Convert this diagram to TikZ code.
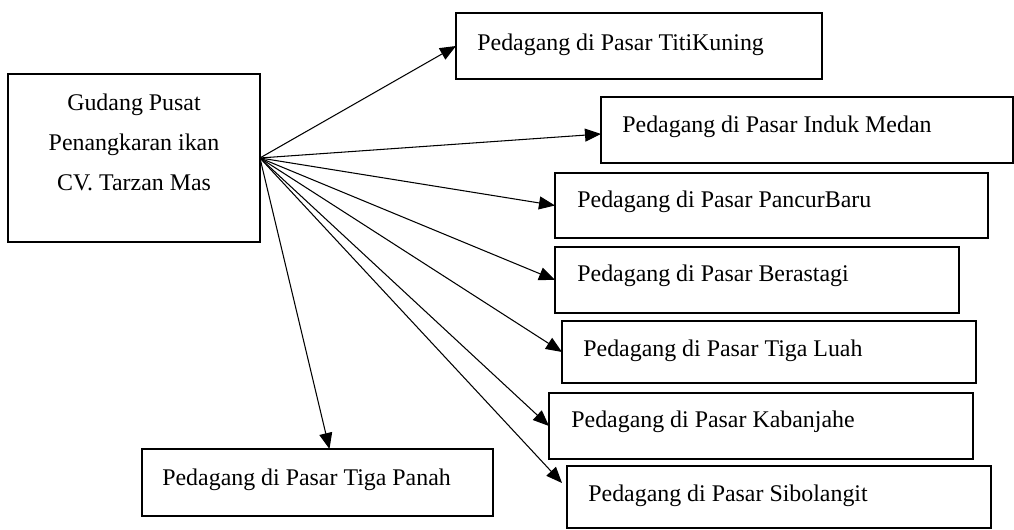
\documentclass[tikz,border=0pt]{standalone}
\usepackage{fontspec}
\setmainfont{Liberation Serif}
\usetikzlibrary{arrows.meta,positioning,calc}
\tikzset{
    flow/.style={-{Triangle[length=0.32cm, width=0.26cm]}, line width=0.6pt, black},
    stall/.style={draw, line width=1.5pt, anchor=north west, inner sep=0pt, outer sep=0pt},
    stalltext/.style={anchor=mid west, inner sep=0pt, font=\fontsize{13.6}{16}\selectfont}
}

\begin{document}
\begin{tikzpicture}[x=0.02cm, y=-0.02cm]
            \useasboundingbox (0,0) rectangle (1014,530);
            % central warehouse
            \node[stall, minimum width=5.04cm, minimum height=3.36cm] (gudang) at (8,74) {};
            \node[align=center, inner sep=0pt, font=\fontsize{13.6}{22.8}\selectfont] (gudangtext) at (134,142) {Gudang Pusat\\Penangkaran ikan\\CV. Tarzan Mas};
            % traders
            \node[stall, minimum width=7.32cm, minimum height=1.32cm] (titi) at (456,13) {};
            \node[stalltext] at ([shift={(21,33)}]titi.north west) {Pedagang di Pasar TitiKuning};
            \node[stall, minimum width=8.24cm, minimum height=1.32cm] (induk) at (601,97) {};
            \node[stalltext] at ([shift={(21,31)}]induk.north west) {Pedagang di Pasar Induk Medan};
            \node[stall, minimum width=8.66cm, minimum height=1.30cm] (pancur) at (555,173) {};
            \node[stalltext] at ([shift={(22,30)}]pancur.north west) {Pedagang di Pasar PancurBaru};
            \node[stall, minimum width=8.08cm, minimum height=1.32cm] (berastagi) at (555,247) {};
            \node[stalltext] at ([shift={(22,30)}]berastagi.north west) {Pedagang di Pasar Berastagi};
            \node[stall, minimum width=8.28cm, minimum height=1.24cm] (luah) at (562,321) {};
            \node[stalltext] at ([shift={(21,31)}]luah.north west) {Pedagang di Pasar Tiga Luah};
            \node[stall, minimum width=8.48cm, minimum height=1.32cm] (kabanjahe) at (549,393) {};
            \node[stalltext] at ([shift={(22,30)}]kabanjahe.north west) {Pedagang di Pasar Kabanjahe};
            \node[stall, minimum width=8.48cm, minimum height=1.24cm] (sibolangit) at (567,466) {};
            \node[stalltext] at ([shift={(21,31)}]sibolangit.north west) {Pedagang di Pasar Sibolangit};
            \node[stall, minimum width=7.02cm, minimum height=1.34cm] (panah) at (142,449) {};
            \node[stalltext] at ([shift={(20,32)}]panah.north west) {Pedagang di Pasar Tiga Panah};
            % distribution
            \draw[flow] (gudang.east) -- (titi.west);
            \draw[flow] (gudang.east) -- ([yshift=-0.08cm]induk.west);
            \draw[flow] (gudang.east) -- (pancur.west);
            \draw[flow] (gudang.east) -- (berastagi.west);
            \draw[flow] (gudang.east) -- (luah.west);
            \draw[flow] (gudang.east) -- (kabanjahe.west);
            \draw[flow] (gudang.east) -- ([shift={(-5,17)}]sibolangit.north west);
            \draw[flow] (gudang.east) -- ([xshift=0.24cm]panah.north);
        \end{tikzpicture}
\end{document}
